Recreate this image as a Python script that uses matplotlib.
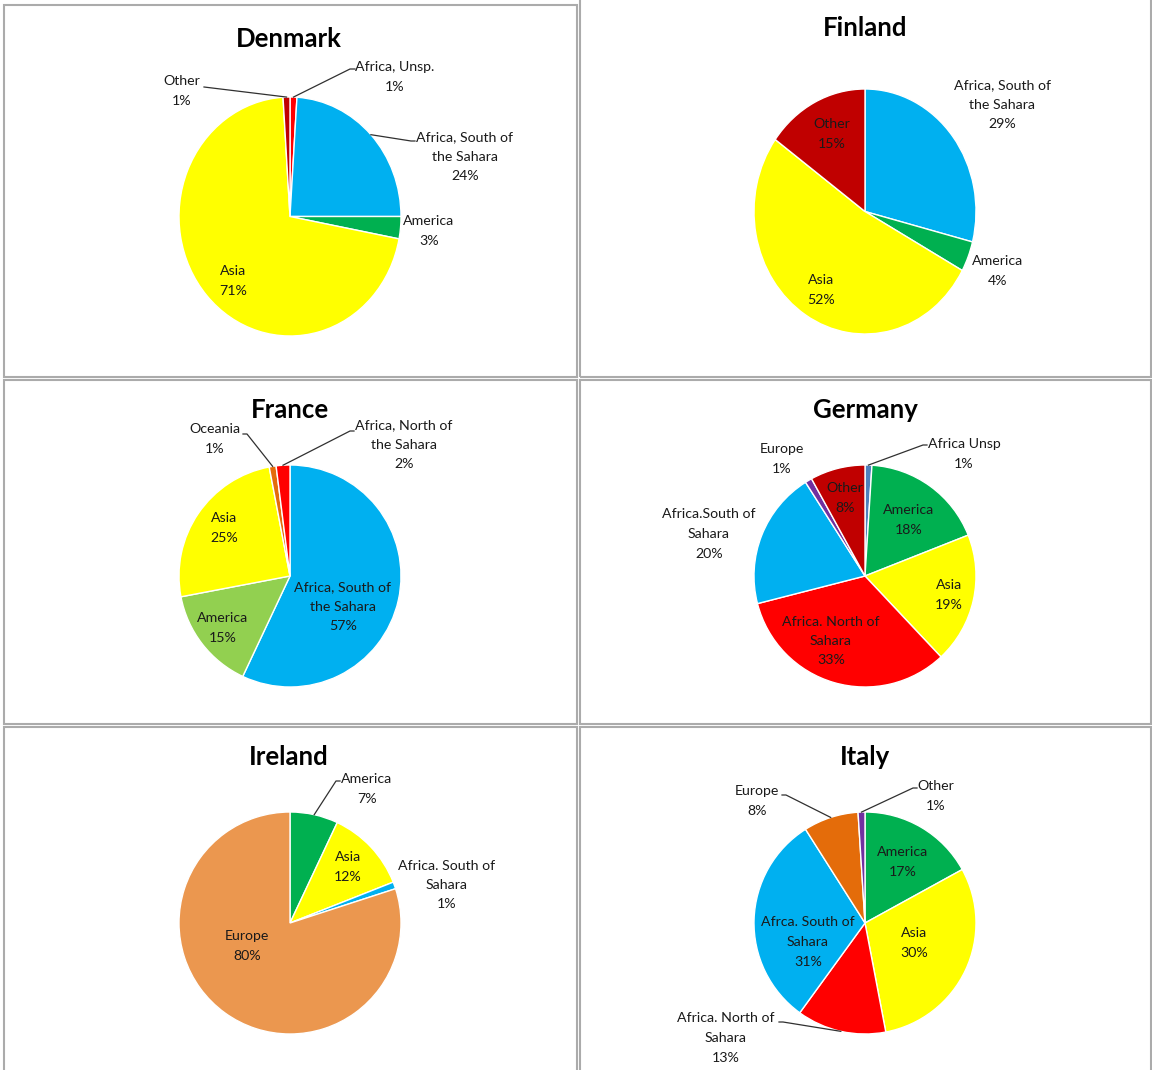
import numpy as np
import matplotlib
matplotlib.use('Agg')
import matplotlib.pyplot as plt
from matplotlib.patches import Rectangle
from matplotlib.lines import Line2D

plt.rcParams['font.family'] = ['Lato', 'DejaVu Sans']

# colours (Excel palette)
YELLOW = '#FFFF00'
BLUE = '#00B0F0'
GREEN = '#00B050'
DKRED = '#C00000'
RED = '#FF0000'
LTGREEN = '#92D050'
ORANGE = '#E46C0A'
PURPLE = '#7030A0'
STEEL = '#4F81BD'
PEACH = '#EB974F'

# data, slices clockwise from 12 o'clock
dk_names = ['Africa, Unsp.', 'Africa, South of\nthe Sahara', 'America', 'Asia', 'Other']
dk_values = [1, 24, 3, 71, 1]
dk_colors = [RED, BLUE, GREEN, YELLOW, DKRED]

fi_names = ['Africa, South of\nthe Sahara', 'America', 'Asia', 'Other']
fi_values = [29, 4, 52, 15]
fi_colors = [BLUE, GREEN, YELLOW, DKRED]

fr_names = ['Africa, South of\nthe Sahara', 'America', 'Asia', 'Oceania', 'Africa, North of\nthe Sahara']
fr_values = [57, 15, 25, 1, 2]
fr_colors = [BLUE, LTGREEN, YELLOW, ORANGE, RED]

de_names = ['Africa Unsp', 'America', 'Asia', 'Africa. North of\nSahara', 'Africa.South of\nSahara', 'Europe', 'Other']
de_values = [1, 18, 19, 33, 20, 1, 8]
de_colors = [STEEL, GREEN, YELLOW, RED, BLUE, PURPLE, DKRED]

ie_names = ['America', 'Asia', 'Africa. South of\nSahara', 'Europe']
ie_values = [7, 12, 1, 80]
ie_colors = [GREEN, YELLOW, BLUE, PEACH]

it_names = ['America', 'Asia', 'Africa. North of\nSahara', 'Afrca. South of\nSahara', 'Europe', 'Other']
it_values = [17, 30, 13, 31, 8, 1]
it_colors = [GREEN, YELLOW, RED, BLUE, ORANGE, PURPLE]

W, H = 1152, 1070
fig = plt.figure(figsize=(W / 100, H / 100), dpi=100)
fig.patch.set_facecolor('white')

# layout in pixels: panel box, pie centre/radii, title pos, label positions, leader starts
charts = [
    dict(title='Denmark', names=dk_names, values=dk_values, colors=dk_colors,
         box=(4, 5, 577, 377), c=(290, 216.5), r=(111, 119.5), tpos=(289, 39),
         labels=[(395, 77), (465, 157), (429, 231), (233, 281), (182, 91)],
         leaders={0: [(355, 69), (350, 69)], 1: [(415, 141), (411, 141)], 4: [(204, 87)]}),
    dict(title='Finland', names=fi_names, values=fi_values, colors=fi_colors,
         box=(580, -2, 1151, 377), c=(865, 211.5), r=(111, 122.5), tpos=(865, 28),
         labels=[(1002, 105), (998, 271), (821, 290), (832, 134)], leaders={}),
    dict(title='France', names=fr_names, values=fr_values, colors=fr_colors,
         box=(4, 380, 577, 724), c=(290, 576), r=(111, 111), tpos=(290, 410),
         labels=[(343, 607), (223, 628), (224, 528), (215, 439), (404, 445)],
         leaders={3: [(243, 434), (247, 434)], 4: [(354, 431), (350, 431)]}),
    dict(title='Germany', names=de_names, values=de_values, colors=de_colors,
         box=(580, 380, 1151, 724), c=(865, 576), r=(111, 111), tpos=(865, 410),
         labels=[(964, 454), (909, 520), (949, 595), (831, 641), (709, 534), (782, 459), (845, 498)],
         leaders={0: [(927, 445), (923, 445)]}),
    dict(title='Ireland', names=ie_names, values=ie_values, colors=ie_colors,
         box=(4, 727, 577, 1080), c=(290, 923), r=(111, 111), tpos=(289, 757),
         labels=[(367, 789), (348, 867), (447, 885), (247, 946)],
         leaders={0: [(340, 781), (336, 781)]}),
    dict(title='Italy', names=it_names, values=it_values, colors=it_colors,
         box=(580, 727, 1151, 1080), c=(865, 923), r=(111, 111), tpos=(865, 757),
         labels=[(903, 862), (914, 943), (726, 1038), (808, 942), (757, 801), (936, 796)],
         leaders={2: [(779, 1022), (783, 1022)], 4: [(782, 795), (786, 795)], 5: [(917, 788), (913, 788)]}),
]

TXT = '#1a1a1a'


def fx(px):
    return px / W


def fy(py):
    return 1 - py / H


for ch in charts:
    x0, y0, x1, y1 = ch['box']
    fig.add_artist(Rectangle((fx(x0), fy(y1)), (x1 - x0) / W, (y1 - y0) / H,
                             transform=fig.transFigure, fill=False,
                             ec='#ababab', lw=1.5))
    cx, cy = ch['c']
    rx, ry = ch['r']
    ax = fig.add_axes([fx(cx - rx), fy(cy + ry), 2 * rx / W, 2 * ry / H])
    wedges, _ = ax.pie(ch['values'], colors=ch['colors'], startangle=90,
                       counterclock=False, radius=1,
                       wedgeprops=dict(edgecolor='white', linewidth=1))
    ax.set_aspect('auto')
    ax.set_xlim(-1, 1)
    ax.set_ylim(-1, 1)
    ax.axis('off')

    fig.text(fx(ch['tpos'][0]), fy(ch['tpos'][1]), ch['title'], ha='center',
             va='center', fontsize=18.5, fontweight='bold', color='black')

    for i, (name, val) in enumerate(zip(ch['names'], ch['values'])):
        lx, ly = ch['labels'][i]
        fig.text(fx(lx), fy(ly), f'{name}\n{val}%', ha='center', va='center',
                 fontsize=10.2, color=TXT, linespacing=1.75)
        if i in ch['leaders']:
            w = wedges[i]
            mid = np.deg2rad((w.theta1 + w.theta2) / 2)
            ex = cx + rx * np.cos(mid)
            ey = cy - ry * np.sin(mid)
            pts = ch['leaders'][i] + [(ex, ey)]
            fig.add_artist(Line2D([fx(p[0]) for p in pts], [fy(p[1]) for p in pts],
                                  transform=fig.transFigure, color='#303030', lw=0.9))

fig.savefig('out.png', dpi=100)
